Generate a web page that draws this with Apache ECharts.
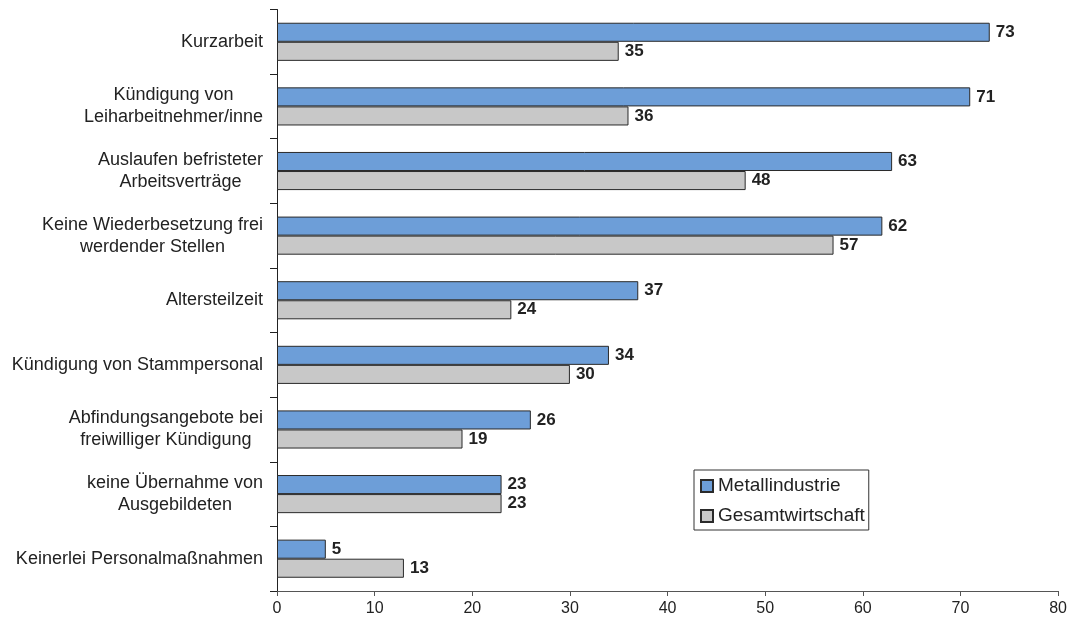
<!DOCTYPE html>
<html>
<head>
<meta charset="utf-8">
<script src="https://cdn.jsdelivr.net/npm/echarts@6/dist/echarts.min.js"></script>
<style>html,body{margin:0;padding:0;background:#fff;}#c{width:1070px;height:623px;}</style>
</head>
<body>
<div id="c"></div>
<script>
const categories = [
  'Kurzarbeit',
  'Kündigung von\nLeiharbeitnehmer/inne',
  'Auslaufen befristeter\nArbeitsverträge',
  'Keine Wiederbesetzung frei\nwerdender Stellen',
  'Altersteilzeit',
  'Kündigung von Stammpersonal',
  'Abfindungsangebote bei\nfreiwilliger Kündigung',
  'keine Übernahme von\nAusgebildeten',
  'Keinerlei Personalmaßnahmen'
];
const metall = [73, 71, 63, 62, 37, 34, 26, 23, 5];
const gesamt = [35, 36, 48, 57, 24, 30, 19, 23, 13];
const xTicks = [0, 10, 20, 30, 40, 50, 60, 70, 80];

const FONT = 'Liberation Sans, Arial, sans-serif';
const chart = echarts.init(document.getElementById('c'), null, {renderer: 'canvas'});
const labelStyle = {
  show: true, position: 'right', distance: 6,
  fontFamily: FONT, fontSize: 17, fontWeight: 'bold', color: '#222'
};
chart.setOption({
  animation: false,
  backgroundColor: '#fff',
  grid: {left: 277, right: 11.5, top: 9.5, bottom: 32, containLabel: false},
  legend: {
    orient: 'vertical', left: 694, top: 470,
    padding: [6, 4, 4, 6],
    borderColor: '#333', borderWidth: 1,
    itemWidth: 12, itemHeight: 12, itemGap: 10,
    icon: 'rect',
    textStyle: {fontFamily: FONT, fontSize: 19, lineHeight: 20, color: '#222'},
    data: ['Metallindustrie', 'Gesamtwirtschaft']
  },
  xAxis: {
    type: 'value', min: xTicks[0], max: xTicks[xTicks.length - 1], interval: 10,
    splitLine: {show: false},
    axisLine: {show: true, lineStyle: {color: '#555', width: 1}},
    axisTick: {show: true, length: 5, lineStyle: {color: '#555'}},
    axisLabel: {fontFamily: FONT, fontSize: 16, color: '#222', margin: 10}
  },
  yAxis: {
    type: 'category', inverse: true, data: categories,
    axisLine: {show: true, lineStyle: {color: '#222', width: 1}},
    axisTick: {show: true, length: 7, lineStyle: {color: '#222'}},
    axisLabel: {
      margin: 14,
      fontFamily: FONT, fontSize: 18, color: '#222',
      formatter: v => v.split('\n').map(l => '{c|' + l + '}').join('\n'),
      rich: {c: {align: 'center', fontFamily: FONT, fontSize: 18, lineHeight: 22, color: '#222'}}
    }
  },
  series: [
    {
      name: 'Metallindustrie', type: 'bar', data: metall,
      barGap: '0%', barCategoryGap: '41%',
      itemStyle: {color: '#6d9ed8', borderColor: '#2a2a2a', borderWidth: 1},
      label: labelStyle
    },
    {
      name: 'Gesamtwirtschaft', type: 'bar', data: gesamt,
      barGap: '0%', barCategoryGap: '41%',
      itemStyle: {color: '#c8c8c8', borderColor: '#2a2a2a', borderWidth: 1},
      label: labelStyle
    }
  ]
});
</script>
</body>
</html>
